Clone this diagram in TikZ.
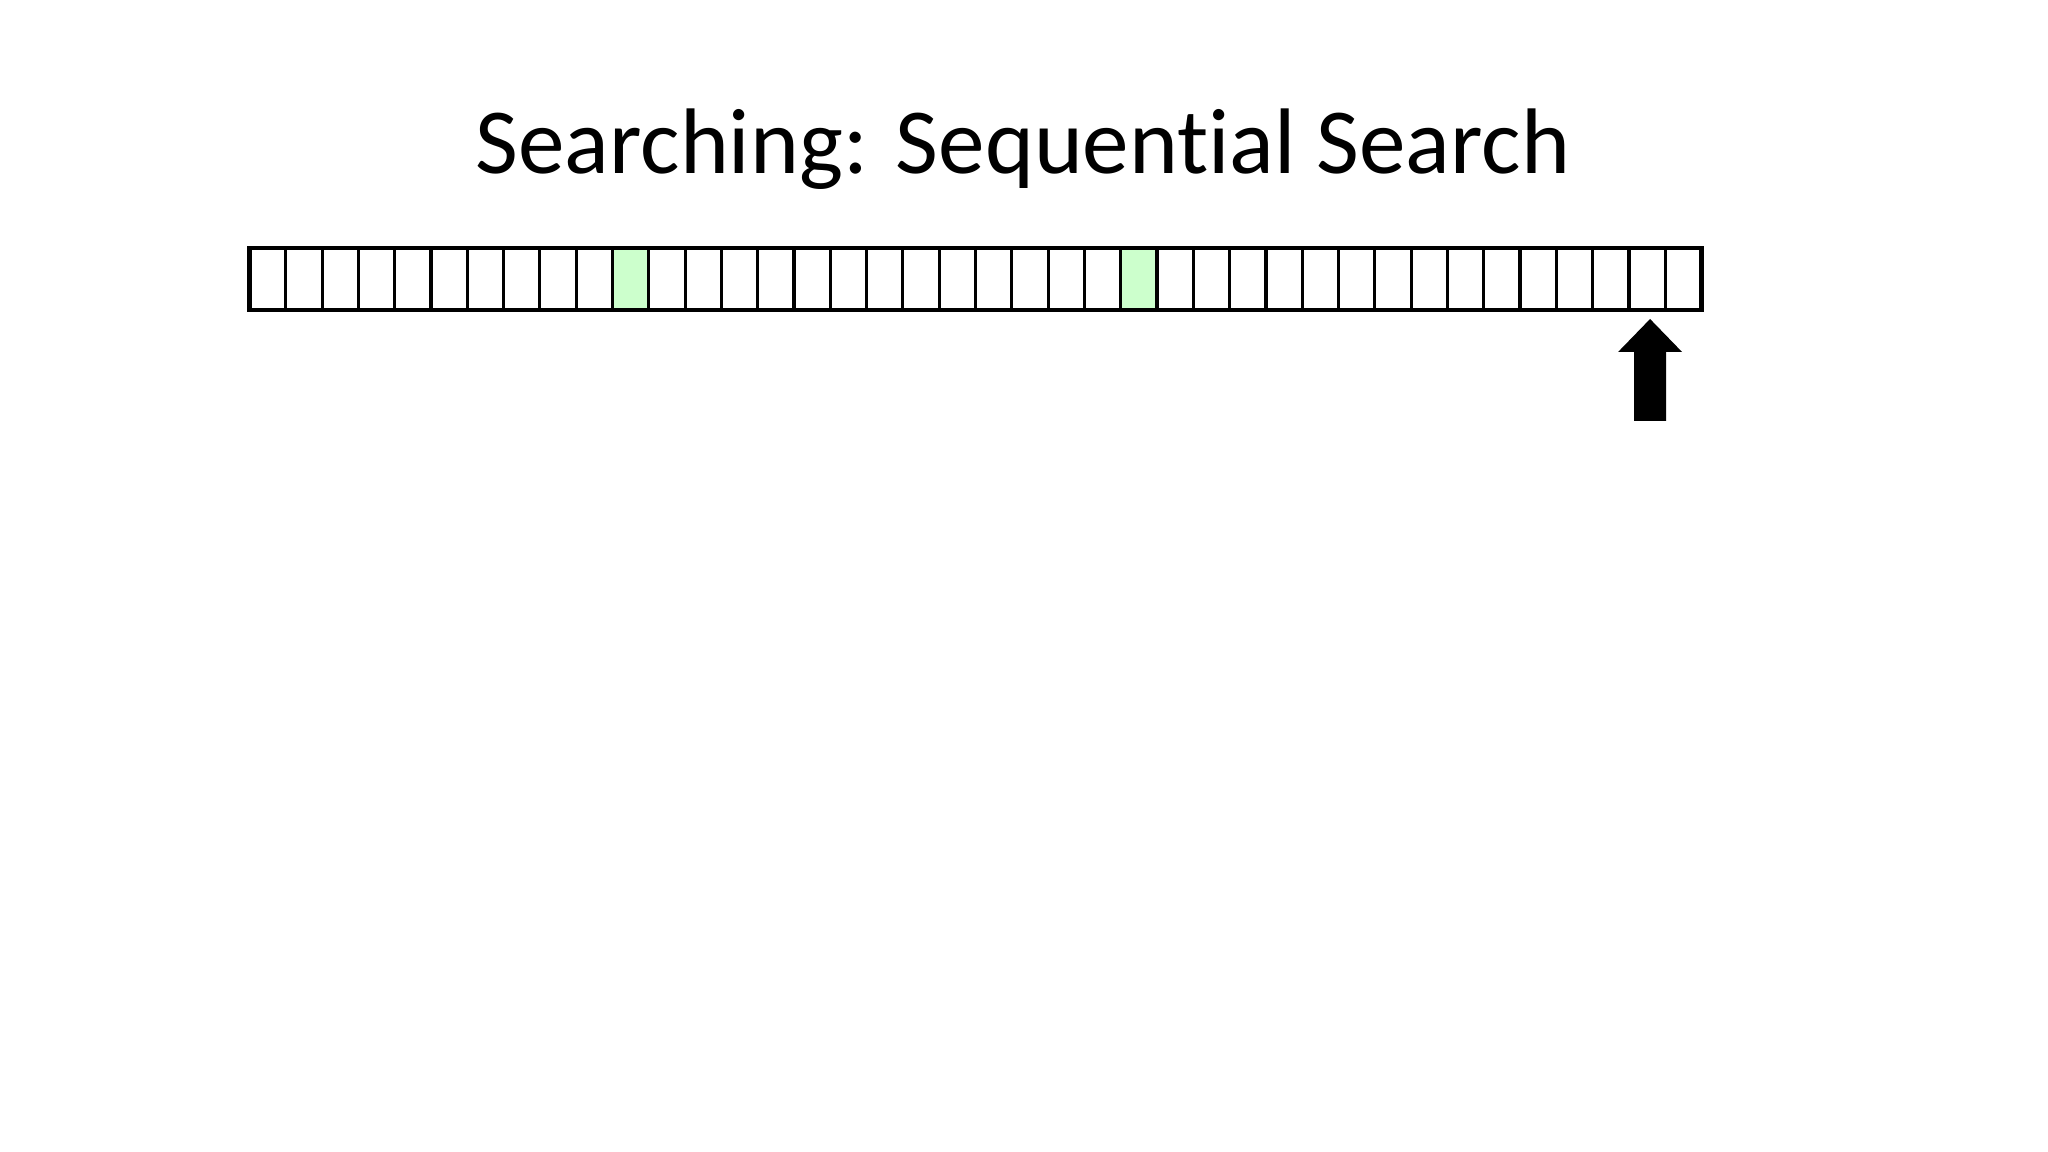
\documentclass[tikz,border=0pt]{standalone}
\usepackage{fontspec}
\setmainfont[Ligatures={NoCommon}]{Carlito}
\usepackage{tikz}
\usetikzlibrary{positioning}
\definecolor{hitgreen}{RGB}{204,255,204}
\tikzstyle{cell} = [draw=black, line width=0.9pt, minimum width=0.363cm, minimum height=0.62cm, inner sep=0pt, outer sep=0pt]
\tikzstyle{found} = [cell, fill=hitgreen]

\begin{document}
\begin{tikzpicture}
\useasboundingbox (0,0) rectangle (20.48,-11.52);
% Title
\node[anchor=base] (title) at (10.23,-1.74) {\fontsize{26.5}{30}\selectfont Searching: Sequential Search};

% Array of 40 cells
\node[cell] (c0) at (2.6765,-2.79) {};
\foreach \i [count=\j from 0] in {1,...,39} {
  \ifnum\i=10 \node[found, right=0pt of c\j] (c\i) {};
  \else\ifnum\i=24 \node[found, right=0pt of c\j] (c\i) {};
  \else \node[cell, right=0pt of c\j] (c\i) {};
  \fi\fi
}
\draw[line width=1.2pt] (c0.north west) rectangle (c39.south east);

% Pointer
\coordinate[below=0.09cm of c38.south, xshift=0.03cm] (tip);
\fill[black] (tip) -- ++(-0.32,-0.33) -- ++(0.16,0) -- ++(0,-0.69) -- ++(0.32,0)
  -- ++(0,0.69) -- ++(0.16,0) -- cycle;
\end{tikzpicture}
\end{document}
